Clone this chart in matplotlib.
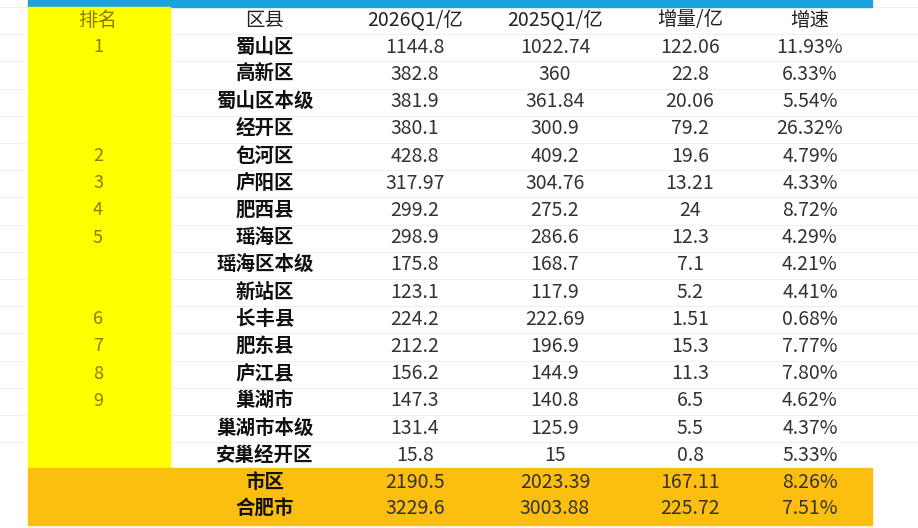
import matplotlib.pyplot as plt
from matplotlib.patches import Rectangle

plt.rcParams['font.family'] = ['Noto Sans CJK SC', 'DejaVu Sans']

headers = ['排名', '区县', '2026Q1/亿', '2025Q1/亿', '增量/亿', '增速']
ranks = ['1', '', '', '', '2', '3', '4', '5', '', '', '6', '7', '8', '9', '', '']
names = ['蜀山区', '高新区', '蜀山区本级', '经开区', '包河区', '庐阳区', '肥西县', '瑶海区',
         '瑶海区本级', '新站区', '长丰县', '肥东县', '庐江县', '巢湖市', '巢湖市本级', '安巢经开区']
q1_2026 = ['1144.8', '382.8', '381.9', '380.1', '428.8', '317.97', '299.2', '298.9',
           '175.8', '123.1', '224.2', '212.2', '156.2', '147.3', '131.4', '15.8']
q1_2025 = ['1022.74', '360', '361.84', '300.9', '409.2', '304.76', '275.2', '286.6',
           '168.7', '117.9', '222.69', '196.9', '144.9', '140.8', '125.9', '15']
delta = ['122.06', '22.8', '20.06', '79.2', '19.6', '13.21', '24', '12.3',
         '7.1', '5.2', '1.51', '15.3', '11.3', '6.5', '5.5', '0.8']
growth = ['11.93%', '6.33%', '5.54%', '26.32%', '4.79%', '4.33%', '8.72%', '4.29%',
          '4.21%', '4.41%', '0.68%', '7.77%', '7.80%', '4.62%', '4.37%', '5.33%']
totals = [['市区', '2190.5', '2023.39', '167.11', '8.26%'],
          ['合肥市', '3229.6', '3003.88', '225.72', '7.51%']]

fig = plt.figure(figsize=(9.18, 5.28), dpi=100)
ax = fig.add_axes([0, 0, 1, 1])
ax.set_xlim(0, 918)
ax.set_ylim(528, 0)
ax.axis('off')

y0, dy = 20, 27.2

# light grid lines like a spreadsheet
for k in range(18):
    y = 7 + dy * k
    if y < 468:
        ax.plot([0, 918], [y, y], color='#eeeeee', lw=0.6, zorder=0)

ax.add_patch(Rectangle((28, 0), 844, 7, color='#1aa3e0'))
ax.add_patch(Rectangle((28, 7), 142, 461, color='#ffff00'))
ax.add_patch(Rectangle((28, 468), 844, 57, color='#fdbf0f'))

xs = [98, 265, 415, 555, 690, 810]
num_font = dict(fontsize=14, color='#333333', fontfamily=['Liberation Sans Narrow', 'Noto Sans CJK SC'])

for x, h in zip(xs, headers):
    col = '#8a7a00' if h == '排名' else '#222222'
    ax.text(x, y0, h, ha='center', va='center', fontsize=14, color=col)

for i in range(len(names)):
    y = y0 + dy * (i + 1)
    ax.text(xs[0], y, ranks[i], ha='center', va='center', fontsize=13, color='#8a7a00')
    ax.text(xs[1], y, names[i], ha='center', va='center', fontsize=14, fontweight='bold', color='#111111')
    for x, v in zip(xs[2:], [q1_2026[i], q1_2025[i], delta[i], growth[i]]):
        ax.text(x, y, v, ha='center', va='center', **num_font)

for j, row in enumerate(totals):
    y = 482 + 27 * j
    ax.text(xs[1], y, row[0], ha='center', va='center', fontsize=14, fontweight='bold', color='#111111')
    for x, v in zip(xs[2:], row[1:]):
        ax.text(x, y, v, ha='center', va='center', **num_font)

fig.savefig('out.png', dpi=100)
